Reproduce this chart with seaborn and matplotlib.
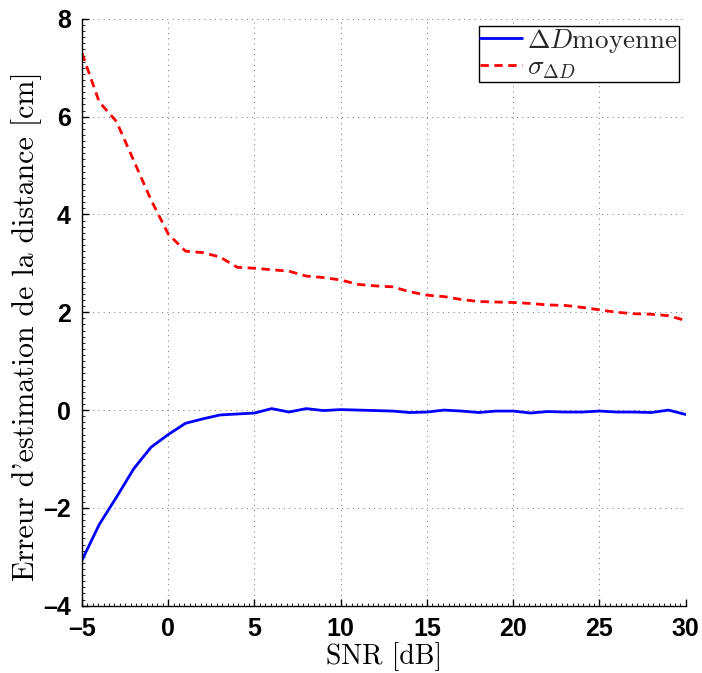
import numpy as np
import pandas as pd
import matplotlib
matplotlib.use("Agg")
import matplotlib.pyplot as plt
import seaborn as sns
from matplotlib.ticker import AutoMinorLocator, FuncFormatter

# SNR values (dB) and the two curves
snr = list(range(-5, 31))
mean_err = [-3.07, -2.34, -1.78, -1.20, -0.76, -0.50, -0.27, -0.18, -0.10, -0.08,
            -0.06, 0.03, -0.04, 0.03, -0.01, 0.01, 0.00, -0.01, -0.02, -0.05,
            -0.04, 0.00, -0.02, -0.05, -0.02, -0.02, -0.06, -0.03, -0.04, -0.04,
            -0.02, -0.04, -0.04, -0.05, 0.00, -0.09]
std_err = [7.30, 6.30, 5.90, 5.10, 4.30, 3.60, 3.25, 3.22, 3.13, 2.92,
           2.90, 2.87, 2.84, 2.74, 2.71, 2.66, 2.57, 2.54, 2.52, 2.42,
           2.35, 2.32, 2.26, 2.22, 2.21, 2.20, 2.18, 2.15, 2.14, 2.10,
           2.05, 2.00, 1.97, 1.96, 1.93, 1.83]

xticks = [-5, 0, 5, 10, 15, 20, 25, 30]
yticks = [-4, -2, 0, 2, 4, 6, 8]

df = pd.DataFrame({"snr": snr, "mean": mean_err, "std": std_err})

sns.set_theme(style="white")
plt.rcParams["mathtext.fontset"] = "cm"

fig = plt.figure(figsize=(7.02, 6.73), dpi=100)
ax = fig.add_axes([0.1168, 0.100, 0.860, 0.872])

sns.lineplot(data=df, x="snr", y="mean", ax=ax, color="blue", linewidth=2,
             label=r"$\Delta D\mathrm{moyenne}$")
sns.lineplot(data=df, x="snr", y="std", ax=ax, color="red", linewidth=2,
             label=r"$\sigma_{\Delta D}$")
ax.lines[1].set_dashes((3, 2))

ax.set_xlim(-5, 30)
ax.set_ylim(-4, 8)
ax.set_xticks(xticks)
ax.set_yticks(yticks)
fmt = FuncFormatter(lambda v, p: f"{v:g}".replace("-", "\u2013"))
ax.xaxis.set_major_formatter(fmt)
ax.yaxis.set_major_formatter(fmt)
ax.xaxis.set_minor_locator(AutoMinorLocator(16))
ax.yaxis.set_minor_locator(AutoMinorLocator(16))

ax.grid(True, which="major", color="#777777", linestyle=(0, (1, 4.3)), linewidth=0.72)

for s in ["top", "right"]:
    ax.spines[s].set_visible(False)
for s in ["left", "bottom"]:
    ax.spines[s].set_color("black")
    ax.spines[s].set_linewidth(1.0)

ax.tick_params(which="major", direction="in", length=5, width=1, color="black",
               left=True, bottom=True, pad=8)
ax.tick_params(which="minor", direction="in", length=2, width=0.6, color="black",
               left=True, bottom=True)
for lab in ax.get_xticklabels() + ax.get_yticklabels():
    lab.set_fontfamily("Liberation Sans")
    lab.set_fontweight("bold")
    lab.set_fontsize(18)
    lab.set_color("black")

ax.set_xlabel("SNR [dB]", fontfamily="cmr10", fontsize=20, color="black", labelpad=1)
ax.set_ylabel("Erreur d'estimation de la distance [cm]", fontfamily="cmr10",
              fontsize=21.5, color="black")
ax.yaxis.set_label_coords(-0.066, 0.477)

leg = ax.legend(loc="upper right", fontsize=19.5, frameon=True, fancybox=False,
                edgecolor="black", framealpha=1, borderaxespad=0.25,
                borderpad=0.04, labelspacing=0.0, handlelength=1.55,
                handletextpad=0.18)
leg.get_frame().set_linewidth(1.0)

plt.savefig("out.png", dpi=100)
